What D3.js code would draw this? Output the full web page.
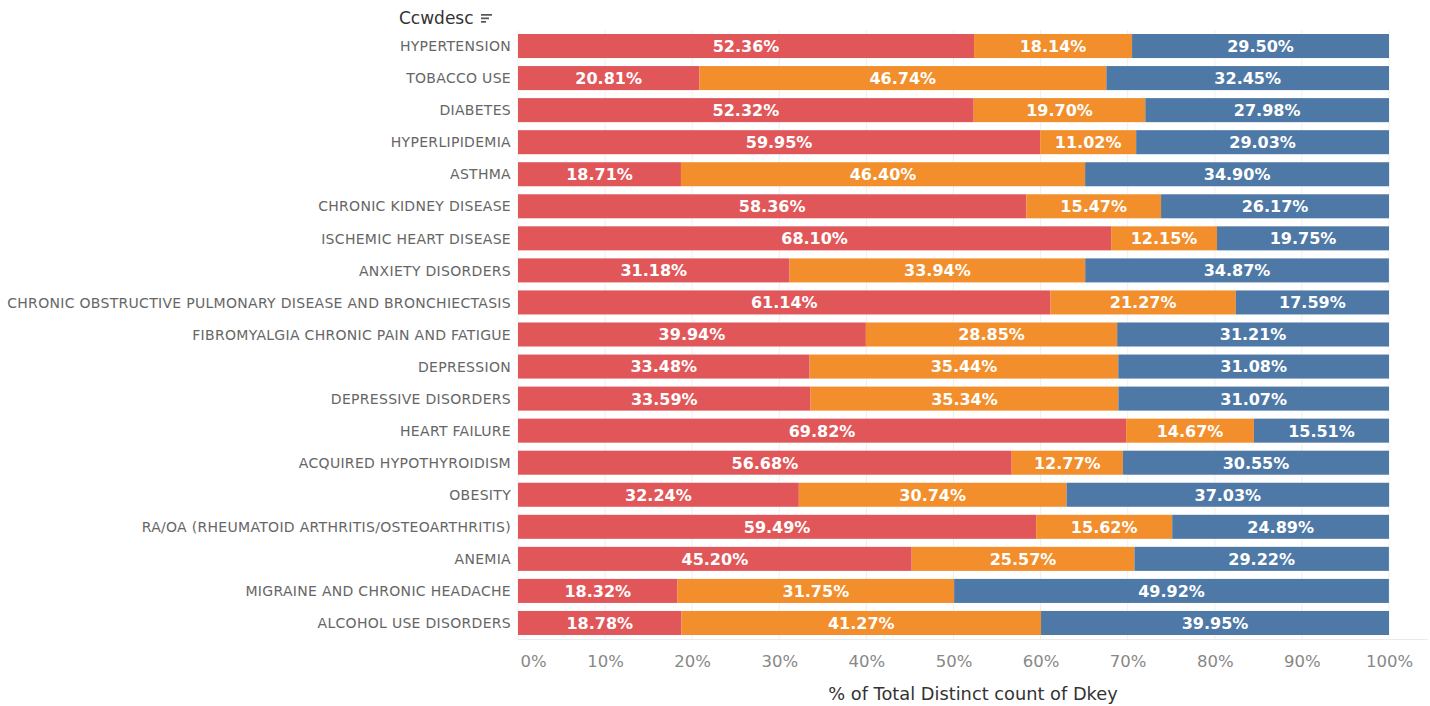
<!DOCTYPE html>
<html lang="en">
  <head>
    <meta charset="UTF-8">
    <title>Ccwdesc stacked bars</title>
    <style>
      html,body{
        background-color: #fff;
        margin: 0;
        padding: 0;
      }
      svg text{ font-family: "DejaVu Sans", sans-serif; }
    </style>
  </head>
  <body>
    <div id="chart"></div>
    <script src="https://d3js.org/d3.v7.min.js"></script>
    <script>
      var categories = [
        "HYPERTENSION", "TOBACCO USE", "DIABETES", "HYPERLIPIDEMIA", "ASTHMA",
        "CHRONIC KIDNEY DISEASE", "ISCHEMIC HEART DISEASE", "ANXIETY DISORDERS",
        "CHRONIC OBSTRUCTIVE PULMONARY DISEASE AND BRONCHIECTASIS",
        "FIBROMYALGIA CHRONIC PAIN AND FATIGUE", "DEPRESSION", "DEPRESSIVE DISORDERS",
        "HEART FAILURE", "ACQUIRED HYPOTHYROIDISM", "OBESITY",
        "RA/OA (RHEUMATOID ARTHRITIS/OSTEOARTHRITIS)", "ANEMIA",
        "MIGRAINE AND CHRONIC HEADACHE", "ALCOHOL USE DISORDERS"
      ];
      var seriesA = [52.36, 20.81, 52.32, 59.95, 18.71, 58.36, 68.10, 31.18, 61.14, 39.94, 33.48, 33.59, 69.82, 56.68, 32.24, 59.49, 45.20, 18.32, 18.78];
      var seriesB = [18.14, 46.74, 19.70, 11.02, 46.40, 15.47, 12.15, 33.94, 21.27, 28.85, 35.44, 35.34, 14.67, 12.77, 30.74, 15.62, 25.57, 31.75, 41.27];
      var seriesC = [29.50, 32.45, 27.98, 29.03, 34.90, 26.17, 19.75, 34.87, 17.59, 31.21, 31.08, 31.07, 15.51, 30.55, 37.03, 24.89, 29.22, 49.92, 39.95];
      var colors = ["#e15759", "#f28e2b", "#4e79a7"];
      var tickValues = [0, 10, 20, 30, 40, 50, 60, 70, 80, 90, 100];

      var width = 1430, height = 706;
      var plotLeft = 518, plotRight = 1389, plotEnd = 1428, plotTop = 30, plotBottom = 639;

      var svg = d3.select("#chart").append("svg")
        .attr("width", width)
        .attr("height", height);

      var x = d3.scaleLinear().domain([0, 100]).range([plotLeft, plotRight]);
      var y = d3.scaleBand().domain(categories).range([plotTop, plotBottom]).paddingInner(0.25).paddingOuter(0.125);

      // gridlines
      svg.append("g").selectAll("line")
        .data(tickValues)
        .enter().append("line")
        .attr("x1", function(d){ return x(d); })
        .attr("x2", function(d){ return x(d); })
        .attr("y1", plotTop)
        .attr("y2", plotBottom)
        .attr("stroke", "#efefef")
        .attr("stroke-width", 1);

      svg.append("line")
        .attr("x1", plotLeft).attr("x2", plotEnd)
        .attr("y1", plotBottom + 0.5).attr("y2", plotBottom + 0.5)
        .attr("stroke", "#eaeaea");

      var rows = categories.map(function(c, i){
        return { cat: c, vals: [seriesA[i], seriesB[i], seriesC[i]] };
      });

      var g = svg.append("g");
      rows.forEach(function(r){
        var start = 0;
        r.vals.forEach(function(v, k){
          g.append("rect")
            .attr("x", x(start))
            .attr("y", y(r.cat))
            .attr("width", x(start + v) - x(start))
            .attr("height", y.bandwidth())
            .attr("fill", colors[k]);
          g.append("text")
            .attr("x", (x(start) + x(start + v)) / 2)
            .attr("y", y(r.cat) + y.bandwidth() / 2)
            .attr("dy", "0.37em")
            .attr("text-anchor", "middle")
            .attr("fill", "#fff")
            .attr("font-size", "16px")
            .attr("font-weight", "bold")
            .text(v.toFixed(2) + "%");
          start += v;
        });
      });

      // category labels
      svg.append("g").selectAll("text")
        .data(categories)
        .enter().append("text")
        .attr("x", plotLeft - 7)
        .attr("y", function(d){ return y(d) + y.bandwidth() / 2; })
        .attr("dy", "0.37em")
        .attr("text-anchor", "end")
        .attr("fill", "#666")
        .attr("font-size", "14px")
        .attr("letter-spacing", "0.3px")
        .text(function(d){ return d; });

      // x axis
      var xAxis = d3.axisBottom(x).tickValues(tickValues).tickSize(0).tickPadding(16)
        .tickFormat(function(d){ return d + "%"; });
      var ax = svg.append("g").attr("transform", "translate(0," + plotBottom + ")").call(xAxis);
      ax.select(".domain").remove();
      ax.selectAll("text")
        .attr("fill", "#888")
        .attr("font-size", "16.5px")
        .attr("font-family", "'DejaVu Sans', sans-serif");
      // first label sits inside the axis start
      ax.selectAll(".tick").filter(function(d){ return d === 0; }).select("text")
        .attr("text-anchor", "start").attr("x", 2);

      svg.append("text")
        .attr("x", (plotLeft + plotEnd) / 2)
        .attr("y", 700)
        .attr("text-anchor", "middle")
        .attr("fill", "#333")
        .attr("font-size", "17.8px")
        .text("% of Total Distinct count of Dkey");

      // header
      svg.append("text")
        .attr("x", 399)
        .attr("y", 24)
        .attr("fill", "#333")
        .attr("font-size", "17px")
        .text("Ccwdesc");
      var icon = svg.append("g").attr("transform", "translate(481,14)");
      [11, 8, 5].forEach(function(w, i){
        icon.append("rect").attr("x", 0).attr("y", i * 3.5).attr("width", w).attr("height", 1.7).attr("fill", "#555");
      });
    </script>
  </body>
</html>
